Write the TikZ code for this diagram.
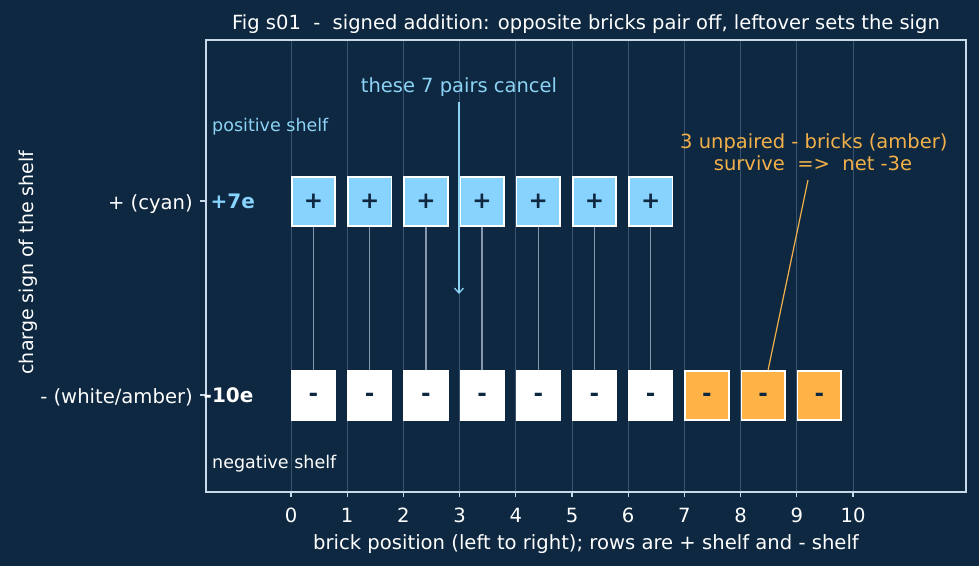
\documentclass[tikz,border=0pt]{standalone}
\usepackage{fontspec}
\setmainfont{DejaVu Sans}
\usetikzlibrary{arrows.meta,calc}
\definecolor{bg}{HTML}{0D2840}
\definecolor{gridc}{HTML}{3A5470}
\definecolor{framec}{HTML}{C8DAEA}
\definecolor{cyanb}{HTML}{87D3FD}
\definecolor{amberb}{HTML}{FFB347}
\definecolor{ambert}{HTML}{F2B04A}
\definecolor{bluet}{HTML}{8DD3F5}
\definecolor{pairc}{HTML}{8499AE}
\definecolor{navy}{HTML}{0D2840}
\newcommand\fsz[1]{\fontsize{#1}{#1}\selectfont}
\begin{document}
\begin{tikzpicture}[x=1pt,y=-1pt,
  brick/.style={draw=white,line width=1.7pt,minimum width=43.5pt,minimum height=49.5pt,inner sep=0pt,font=\fsz{23}\bfseries,text=navy},
  posbrick/.style={brick,fill=cyanb},
  minusbrick/.style={brick,text height=12.9pt,text depth=0pt},
  negbrick/.style={minusbrick,fill=white},
  ambbrick/.style={minusbrick,fill=amberb},
  lbl/.style={inner sep=0pt,text=white,font=\fsz{19.6}},
  shelf/.style={inner sep=0pt,font=\fsz{17.5},anchor=base west},
  gridline/.style={gridc,line width=0.8pt},
  tickline/.style={framec,line width=1.2pt},
  pairline/.style={pairc,line width=1.4pt}]
\useasboundingbox (0,0) rectangle (979,566);
\fill[bg] (0,0) rectangle (979,566);
% grid
\foreach \i in {0,...,10} \draw[gridline] ({291+56.2*\i},40) -- ({291+56.2*\i},492);
% frame
\draw[framec,line width=1.5pt] (206,40) rectangle (966,492);
% x ticks
\foreach \i in {0,...,10} {
  \draw[tickline] ({291+56.2*\i},492) -- ({291+56.2*\i},497);
  \node[lbl,anchor=base] (xt\i) at ({291+56.2*\i},522.5) {\i};
}
% y ticks
\draw[tickline] (200,201) -- (206,201);
\draw[tickline] (200,395) -- (206,395);
\node[lbl,anchor=base east] (ytp) at (193,209) {+ (cyan)};
\node[lbl,anchor=base east] (ytn) at (193,403) {- (white/amber)};
% axis labels
\node[lbl,anchor=base] (xlab) at (586,549) {brick position (left to right); rows are + shelf and - shelf};
\node[lbl,anchor=base,rotate=90,font=\fsz{19}] (ylab) at (33,262.5) {charge sign of the shelf};
% title
\node[lbl,anchor=base,font=\fsz{19.5}] (title) at (586,29) {Fig s01\ \ -\ \ signed addition: opposite bricks pair off, leftover sets the sign};
% shelf labels
\node[shelf,text=bluet] (posshelf) at (212,131.5) {positive shelf};
\node[shelf,text=white] (negshelf) at (212,468) {negative shelf};
% totals
\node[inner sep=0pt,anchor=base west,font=\fsz{20}\bfseries,text=cyanb] (tot7) at (210.5,208) {+7e};
\node[inner sep=0pt,anchor=base west,font=\fsz{20}\bfseries,text=white] (tot10) at (203.5,402.3) {-10e};
% bricks
\foreach \i in {0,...,6} \node[posbrick] (p\i) at ({313.5+56.2*\i},201.5) {+};
\foreach \i in {0,...,6} \node[negbrick] (n\i) at ({313.5+56.2*\i},395.5) {-};
\foreach \i in {7,8,9} \node[ambbrick] (n\i) at ({313.5+56.2*\i},395.5) {-};
\foreach \i in {0,...,6} \draw[pairline] (p\i.south) -- (n\i.north);
% cancel annotation
\node[inner sep=0pt,anchor=base,font=\fsz{19.5},text=bluet] (cancel) at (459,92.5) {these 7 pairs cancel};
\coordinate (arrtop) at (459,102);
\coordinate (arrtip) at (459,294);
\draw[bluet,line width=1.3pt,-{Straight Barb[length=5pt,width=9pt]}] (arrtop) -- (arrtip);
% survive annotation
\node[inner sep=0pt,anchor=base,font=\fsz{19.5},text=ambert] (ann1) at (813.8,148) {3 unpaired - bricks (amber)};
\node[inner sep=0pt,anchor=base,font=\fsz{19.5},text=ambert] (ann2) at (813,170) {survive\ \ =>\ \ net -3e};
\coordinate (annstart) at (808,180);
\coordinate (annend) at ($(n8.north)+(5,0)$);
\draw[ambert,line width=1.2pt] (annstart) -- (annend);
\end{tikzpicture}
\end{document}
